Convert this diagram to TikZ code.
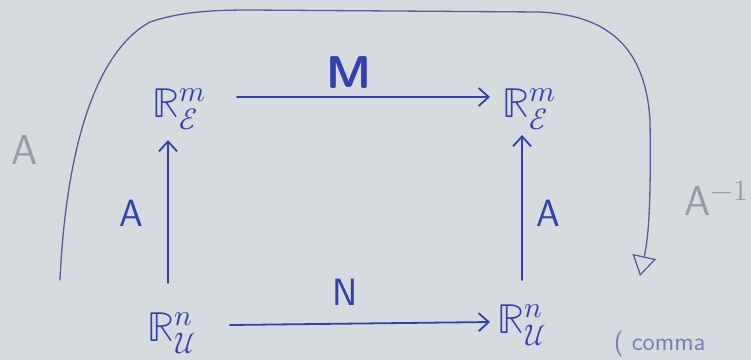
\documentclass[tikz,border=0pt]{standalone}
\usepackage{fontspec}
\usepackage{unicode-math}
\setmathfont{Latin Modern Math}
\usetikzlibrary{arrows.meta}
\definecolor{bgc}{RGB}{214,219,224}
\definecolor{inkc}{RGB}{50,65,175}
\definecolor{curvec}{RGB}{85,95,155}
\definecolor{faintc}{RGB}{150,156,168}
\definecolor{commac}{RGB}{115,128,185}
\begin{document}
\begin{tikzpicture}[x=1pt,y=-1pt,
  ink/.style={draw=inkc, line width=1.8pt, line cap=round},
  arr/.style={ink, -{Straight Barb[length=10pt,width=18pt,line width=1.8pt]}},
  sym/.style={text=inkc, font=\fontsize{42}{46}\selectfont, inner sep=0pt, anchor=base west},
  lab/.style={text=inkc, font=\sffamily\fontsize{38}{42}\selectfont, inner sep=0pt},
  faint/.style={text=faintc, font=\sffamily\fontsize{42}{46}\selectfont, inner sep=0pt},
  loop/.style={draw=curvec, line width=1.3pt, line cap=round, -{Triangle[open,length=20pt,width=24pt,line width=1.3pt]}}
]
\fill[bgc] (0,0) rectangle (751,360);
\useasboundingbox (0,0) rectangle (751,360);

% objects
\node[sym] (tl) at (152,117) {$\mathbb{R}^{m}_{\mathcal{E}}$};
\node[sym] (tr) at (502,117) {$\mathbb{R}^{m}_{\mathcal{E}}$};
\node[sym] (bl) at (147,341) {$\mathbb{R}^{n}_{\mathcal{U}}$};
\node[sym] (br) at (497,333) {$\mathbb{R}^{n}_{\mathcal{U}}$};

% arrow end points
\coordinate (tl-out) at (237,97);
\coordinate (tr-in) at (490,97);
\coordinate (bl-out) at (230,325);
\coordinate (br-in) at (490,322);
\coordinate (bl-up) at (168,283);
\coordinate (tl-in) at (168,140);
\coordinate (br-up) at (522,280);
\coordinate (tr-up) at (522,135);
\coordinate (loop-start) at (60,280);
\coordinate (loop-end) at (640,276);

\draw[arr] (tl-out) -- (tr-in);
\draw[arr] (bl-out) -- (br-in);
\draw[arr] (bl-up) -- (tl-in);
\draw[arr] (br-up) -- (tr-up);

\draw[loop] (loop-start) .. controls (66,150) and (95,52) .. (150,22)
  .. controls (180,12) and (210,10) .. (250,10) -- (540,12)
  .. controls (600,15) and (645,40) .. (650,120)
  .. controls (651,200) and (649,235) .. (loop-end);

% labels
\node[lab, font=\sffamily\bfseries\fontsize{46}{50}\selectfont] (M) at (349,73) {M};
\node[lab] (N) at (345,292) {N};
\node[lab] (Al) at (131,213) {A};
\node[lab] (Ar) at (548,213) {A};

% faint marks
\node[faint] (fa) at (25,150) {A};
\node[faint, anchor=west] (fai) at (684,198) {A$^{-1}$};
\node[text=commac, font=\sffamily\fontsize{26}{28}\selectfont, inner sep=0pt, anchor=base west] (cm) at (614,350) {( comma};
\end{tikzpicture}
\end{document}
